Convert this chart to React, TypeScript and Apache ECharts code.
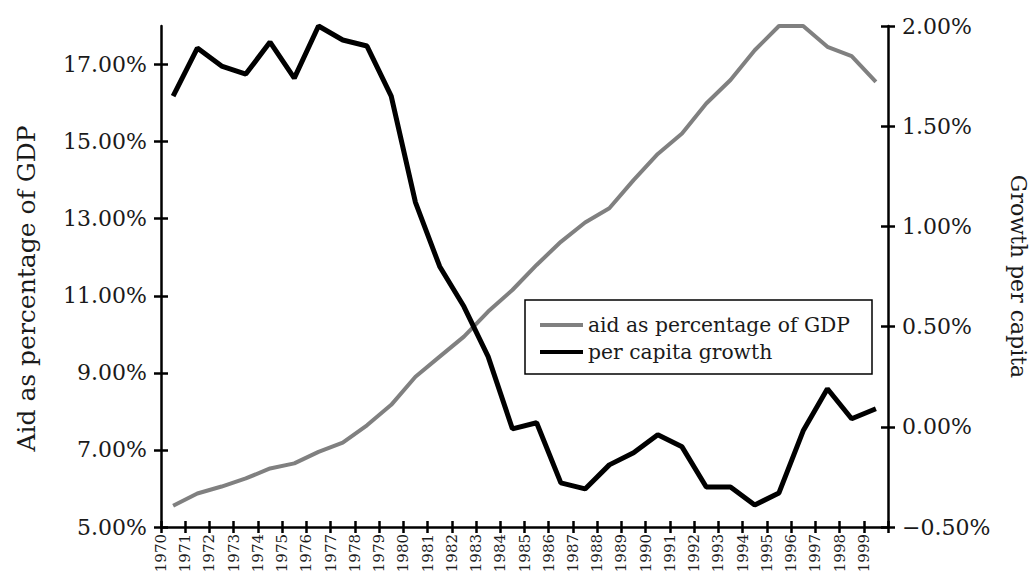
import React, { useEffect, useRef } from "react";
import * as echarts from "echarts";

const years = [
  "1970", "1971", "1972", "1973", "1974", "1975", "1976", "1977", "1978", "1979",
  "1980", "1981", "1982", "1983", "1984", "1985", "1986", "1987", "1988", "1989",
  "1990", "1991", "1992", "1993", "1994", "1995", "1996", "1997", "1998", "1999",
];

const aidPct = [
  5.55, 5.87, 6.05, 6.26, 6.52, 6.65, 6.95, 7.19, 7.64, 8.17,
  8.9, 9.42, 9.94, 10.59, 11.15, 11.8, 12.4, 12.9, 13.27, 14.0,
  14.68, 15.21, 15.99, 16.6, 17.37, 18.0, 18.0, 17.46, 17.22, 16.55,
];

const growthPct = [
  1.65, 1.89, 1.8, 1.76, 1.92, 1.74, 2.0, 1.93, 1.9, 1.65,
  1.12, 0.8, 0.6, 0.35, -0.01, 0.02, -0.28, -0.31, -0.19, -0.13,
  -0.04, -0.1, -0.3, -0.3, -0.39, -0.33, -0.02, 0.19, 0.04, 0.09,
];

const leftTicks = [5, 7, 9, 11, 13, 15, 17];

const FONT = "DejaVu Serif";
const TEXT = "#1a1a1a";

export default function App() {
  const ref = useRef<HTMLDivElement>(null);
  useEffect(() => {
    if (!ref.current) return;
    const chart = echarts.init(ref.current, null, { renderer: "svg" });
    const leftFmt = (v: number) => v.toFixed(2) + "%";
    const rightFmt = (v: number) =>
      (v < 0 ? "\u2212" + Math.abs(v).toFixed(2) : v.toFixed(2)) + "%";
    const xFmt = (v: number) => (v >= 2000 ? "" : String(v));
    const tickStyle = { color: "#000", width: 2.5 };
    const line = { show: true, onZero: false, lineStyle: { color: "#000", width: 2.5 } };
    chart.setOption({
      animation: false,
      backgroundColor: "#fff",
      grid: {
        left: 161,
        right: 148,
        top: 26,
        bottom: 54,
        containLabel: false,
        outerBoundsMode: "none",
      },
      legend: {
        orient: "vertical",
        left: 525,
        top: 300,
        padding: [14, 22, 11, 15],
        itemGap: 5,
        itemWidth: 43,
        itemHeight: 4,
        borderColor: "#000",
        borderWidth: 1.5,
        backgroundColor: "#fff",
        textStyle: { fontFamily: FONT, fontSize: 20.3, color: TEXT, lineHeight: 22 },
        data: [
          { name: "aid as percentage of GDP", icon: "rect" },
          { name: "per capita growth", icon: "rect" },
        ],
      },
      xAxis: [
        { type: "category", data: years, boundaryGap: true, show: false },
        {
          type: "value",
          position: "bottom",
          min: 1970,
          max: 2000,
          interval: 1,
          splitLine: { show: false },
          axisLine: line,
          axisTick: { show: true, length: 6, lineStyle: tickStyle },
          axisLabel: {
            rotate: 90,
            margin: 7,
            formatter: xFmt,
            fontFamily: FONT,
            fontSize: 15,
            color: TEXT,
          },
        },
        {
          type: "value",
          position: "bottom",
          min: 1970,
          max: 2000,
          interval: 1,
          splitLine: { show: false },
          axisLine: { show: false, onZero: false },
          axisTick: { show: true, inside: true, length: 6, lineStyle: tickStyle },
          axisLabel: { show: false },
        },
      ],
      yAxis: [
        {
          type: "value",
          position: "left",
          min: 5,
          max: 18,
          interval: 1,
          name: "Aid as percentage of GDP",
          nameLocation: "middle",
          nameGap: 122,
          nameTextStyle: { fontFamily: FONT, fontSize: 25, color: TEXT, padding: [0, 24, 0, 0] },
          splitLine: { show: false },
          axisLine: line,
          axisTick: { show: true, length: 7, customValues: leftTicks, lineStyle: tickStyle },
          axisLabel: {
            customValues: leftTicks,
            formatter: leftFmt,
            margin: 14,
            fontFamily: FONT,
            fontSize: 22,
            color: TEXT,
          },
        },
        {
          type: "value",
          position: "right",
          min: -0.5,
          max: 2,
          interval: 0.5,
          name: "Growth per capita",
          nameLocation: "middle",
          nameGap: 119,
          nameRotate: -90,
          nameTextStyle: { fontFamily: FONT, fontSize: 22, color: TEXT },
          splitLine: { show: false },
          axisLine: line,
          axisTick: { show: true, length: 7, lineStyle: tickStyle },
          axisLabel: {
            formatter: rightFmt,
            margin: 14,
            fontFamily: FONT,
            fontSize: 22,
            color: TEXT,
          },
        },
        {
          type: "value",
          position: "left",
          min: 5,
          max: 18,
          interval: 1,
          splitLine: { show: false },
          axisLine: { show: false, onZero: false },
          axisTick: { show: true, inside: true, length: 7, customValues: leftTicks, lineStyle: tickStyle },
          axisLabel: { show: false },
        },
        {
          type: "value",
          position: "right",
          min: -0.5,
          max: 2,
          interval: 0.5,
          splitLine: { show: false },
          axisLine: { show: false, onZero: false },
          axisTick: { show: true, inside: true, length: 7, lineStyle: tickStyle },
          axisLabel: { show: false },
        },
      ],
      series: [
        {
          name: "aid as percentage of GDP",
          type: "line",
          xAxisIndex: 0,
          yAxisIndex: 0,
          data: aidPct,
          symbol: "none",
          color: "#808080",
          lineStyle: { color: "#808080", width: 4 },
          z: 2,
        },
        {
          name: "per capita growth",
          type: "line",
          xAxisIndex: 0,
          yAxisIndex: 1,
          data: growthPct,
          symbol: "none",
          color: "#000",
          lineStyle: { color: "#000", width: 5 },
          z: 3,
        },
      ],
    });
    return () => chart.dispose();
  }, []);
  return (
    <div
      ref={ref}
      style={{ position: "fixed", left: 0, top: 0, width: 1036, height: 581, background: "#fff" }}
    />
  );
}
